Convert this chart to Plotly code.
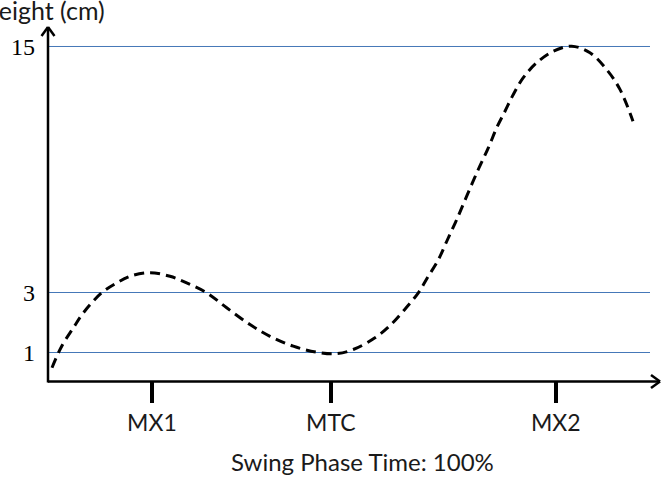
import plotly.graph_objects as go

# Swing phase time (%) and foot height (schematic display units)
swing_pct = [0, 1.67, 3.67, 5.39, 8.55, 11.14, 13.43, 16.87, 20.31, 23.18, 26.63, 30.07,
             34.08, 37.52, 41.53, 45.56, 49.0, 51.86, 55.59, 58.18, 60.46, 63.05, 64.77,
             66.44, 67.93, 69.66, 71.38, 73.37, 75.1, 76.54, 77.97, 79.4, 81.12, 83.43,
             86.28, 89.45, 92.6, 95.47, 97.76, 100]
foot_height = [0.49, 1.21, 1.82, 2.32, 2.99, 3.32, 3.54, 3.66, 3.54, 3.32, 2.99, 2.49,
               1.93, 1.54, 1.21, 1.01, 0.96, 1.10, 1.49, 1.90, 2.38, 2.99, 3.54,
               4.07, 4.70, 5.43, 6.21, 7.10, 7.82, 8.49, 9.04, 9.60, 10.16, 10.66,
               11.04, 11.21, 10.99, 10.43, 9.77, 8.71]

x_tick_pos = [17.2, 48.0, 86.7]
x_tick_text = ["MX1", "MTC", "MX2"]
y_tick_pos = [1, 3, 11.2]
y_tick_text = ["1", "3", "15"]

fig = go.Figure()
fig.add_trace(go.Scatter(
    x=swing_pct, y=foot_height, mode="lines",
    line=dict(color="black", width=3, dash="10px,6px", shape="spline", smoothing=1.0),
    showlegend=False, hoverinfo="skip"))

W, H = 665, 486
ml, mr, mt, mb = 48, 15, 28, 105
pw, ph = W - ml - mr, H - mt - mb

def px(xp):
    return (xp - ml) / pw

def py(yp):
    return (H - mb - yp) / ph

shapes = []
# horizontal reference lines at the y ticks
for v in y_tick_pos:
    shapes.append(dict(type="line", xref="paper", yref="y", x0=0, x1=1, y0=v, y1=v,
                       layer="below", line=dict(color="#4578b8", width=1)))
ax_col = "black"
# x axis with open arrow
shapes.append(dict(type="line", xref="paper", yref="paper", x0=0, y0=py(381.5), x1=px(660), y1=py(381.5),
                   line=dict(color=ax_col, width=2.5)))
shapes.append(dict(type="line", xref="paper", yref="paper", x0=px(651), y0=py(375), x1=px(660), y1=py(381.5),
                   line=dict(color=ax_col, width=2.5)))
shapes.append(dict(type="line", xref="paper", yref="paper", x0=px(651), y0=py(388), x1=px(660), y1=py(381.5),
                   line=dict(color=ax_col, width=2.5)))
# y axis with open arrow
shapes.append(dict(type="line", xref="paper", yref="paper", x0=px(48), y0=py(382.5), x1=px(48), y1=py(27),
                   line=dict(color=ax_col, width=2.5)))
shapes.append(dict(type="line", xref="paper", yref="paper", x0=px(41.5), y0=py(36), x1=px(48), y1=py(27),
                   line=dict(color=ax_col, width=2.5)))
shapes.append(dict(type="line", xref="paper", yref="paper", x0=px(54.5), y0=py(36), x1=px(48), y1=py(27),
                   line=dict(color=ax_col, width=2.5)))

fig.update_layout(
    width=W, height=H,
    margin=dict(l=ml, r=mr, t=mt, b=mb, pad=0),
    paper_bgcolor="white", plot_bgcolor="white",
    shapes=shapes,
    xaxis=dict(range=[-0.688, 102.93], showgrid=False, zeroline=False, showline=False,
               tickmode="array", tickvals=x_tick_pos, ticktext=x_tick_text,
               ticks="outside", ticklen=21, tickwidth=4, tickcolor="black",
               tickfont=dict(family="Lato", size=23, color="#1a1a1a")),
    yaxis=dict(range=[0.05, 11.8163], showgrid=False,
               zeroline=False, showline=False,
               tickmode="array", tickvals=y_tick_pos, ticktext=y_tick_text, ticks="",
               ticklabelstandoff=12,
               tickfont=dict(family="Liberation Serif", size=24, color="black")),
    annotations=[
        dict(text="Swing Phase Time: 100%", xref="paper", yref="paper",
             x=px(362), y=py(461), xanchor="center", yanchor="middle", showarrow=False,
             font=dict(family="Lato", size=24, color="#1a1a1a")),
        dict(text="Height (cm)", xref="paper", yref="paper",
             x=px(107), y=py(10), xanchor="right", yanchor="middle", showarrow=False,
             font=dict(family="Lato", size=25, color="#1a1a1a")),
    ],
)

fig.write_html("out.html")
